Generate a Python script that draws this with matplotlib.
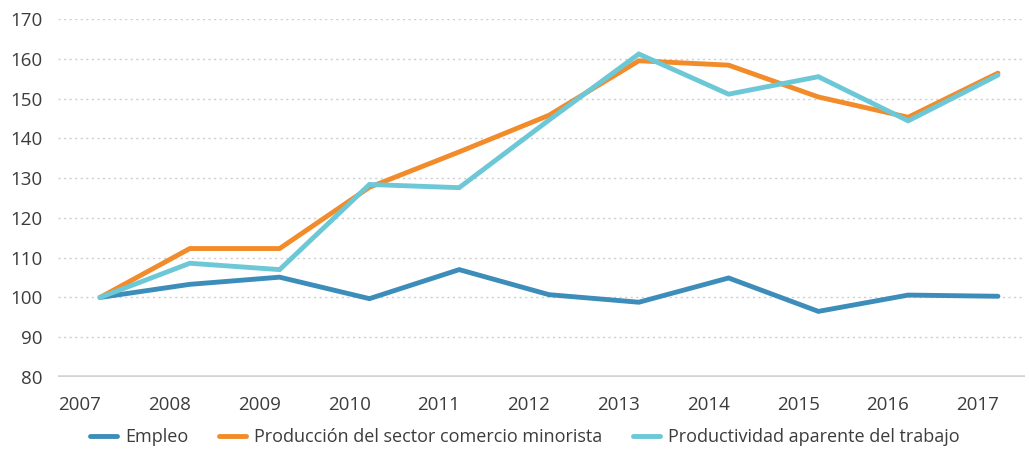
import matplotlib.pyplot as plt

# Data
years = ["2007", "2008", "2009", "2010", "2011", "2012",
         "2013", "2014", "2015", "2016", "2017"]
empleo = [100, 103.3, 105.1, 99.7, 107.0, 100.7, 98.8, 104.9, 96.5, 100.6, 100.3]
produccion = [100, 112.3, 112.3, 127.7, 136.6, 145.8, 159.5, 158.4, 150.4, 145.3, 156.4]
productividad = [100, 108.6, 107.0, 128.4, 127.6, 144.6, 161.2, 151.1, 155.5, 144.4, 155.9]

labels = ["Empleo", "Producción del sector comercio minorista",
          "Productividad aparente del trabajo"]
colors = ["#3d8dba", "#f28b2a", "#6cc8d6"]
text_color = "#3c3c3c"

plt.rcParams["font.family"] = ["Open Sans", "DejaVu Sans"]

fig = plt.figure(figsize=(10.29, 4.59), dpi=100)
ax = fig.add_axes([0.0564, 0.1786, 0.9396, 0.78])

x = list(range(len(years)))
for series, lab, col in zip([empleo, produccion, productividad], labels, colors):
    ax.plot(x, series, color=col, linewidth=3.5, label=lab,
            solid_joinstyle="miter", solid_capstyle="round")

ax.set_xlim(-0.468, 10.3)
ax.set_ylim(80, 170)
ax.set_yticks(range(80, 171, 10))

# Year labels sit a bit to the left of the data points
ax.set_xticks([i - 0.225 for i in x])
ax.set_xticklabels(years)

ax.tick_params(axis="both", length=0, labelsize=13.5, labelcolor=text_color)
ax.tick_params(axis="x", pad=14)
ax.tick_params(axis="y", pad=11)

# dotted horizontal gridlines
for v in range(90, 171, 10):
    ax.axhline(v, color="#cdcdcd", linewidth=1, linestyle=(0, (1.5, 2.5)), zorder=0)
ax.axhline(80, color="#d3d3d3", linewidth=2.6, zorder=0)

for s in ax.spines.values():
    s.set_visible(False)

fig.legend(loc="lower center", bbox_to_anchor=(0.51, -0.008), ncol=3,
           frameon=False, fontsize=13, handlelength=1.5, handletextpad=0.45,
           columnspacing=1.7, labelcolor=text_color)

plt.savefig("out.png", dpi=100)
